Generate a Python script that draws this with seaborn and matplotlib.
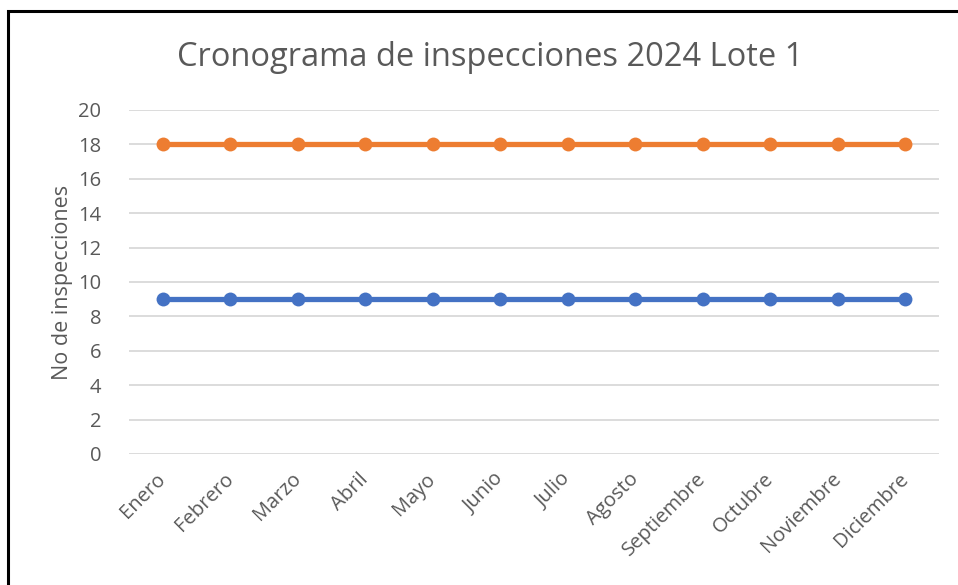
import pandas as pd
import matplotlib.pyplot as plt
import seaborn as sns
from matplotlib.patches import Rectangle

months = ['Enero', 'Febrero', 'Marzo', 'Abril', 'Mayo', 'Junio', 'Julio',
          'Agosto', 'Septiembre', 'Octubre', 'Noviembre', 'Diciembre']
serie_azul = [9, 9, 9, 9, 9, 9, 9, 9, 9, 9, 9, 9]
serie_naranja = [18, 18, 18, 18, 18, 18, 18, 18, 18, 18, 18, 18]
yticks = [0, 2, 4, 6, 8, 10, 12, 14, 16, 18, 20]

text_color = '#595959'

sns.set_style('white')
plt.rcParams['font.family'] = ['Open Sans', 'DejaVu Sans']

df = pd.DataFrame({
    'mes': months * 2,
    'valor': serie_azul + serie_naranja,
    'serie': ['Serie 1'] * 12 + ['Serie 2'] * 12,
})

fig = plt.figure(figsize=(9.58, 5.85), dpi=100)
ax = fig.add_axes([0.1347, 0.224, 0.8455, 0.588])

sns.lineplot(data=df, x='mes', y='valor', hue='serie', sort=False,
             palette=['#4472C4', '#ED7D31'], marker='o', markersize=10,
             markeredgewidth=0, linewidth=3.8, legend=False, ax=ax)

ax.set_xlim(-0.5, len(months) - 0.5)
ax.set_ylim(0, 20)
ax.set_yticks(yticks)
ax.set_xticks(range(len(months)))
ax.set_xticklabels(months, rotation=45, ha='right', va='center',
                   rotation_mode='anchor')
ax.yaxis.grid(True, color='#D9D9D9', linewidth=1.3)
ax.set_axisbelow(True)
for s in ax.spines.values():
    s.set_visible(False)
ax.tick_params(axis='both', length=0, labelsize=14.5, colors=text_color)
ax.tick_params(axis='x', pad=16)
ax.tick_params(axis='y', pad=20)
ax.set_xlabel('')
ax.set_ylabel('No de inspecciones', fontsize=15.5, color=text_color, labelpad=4)

fig.text(0.512, 0.902, 'Cronograma de inspecciones 2024 Lote 1',
         ha='center', va='center', fontsize=23.5, color=text_color)

# chart frame
fig.patches.append(Rectangle((8 / 958, -0.1), 2.0, 1.1 - 11 / 585,
                             transform=fig.transFigure, fill=False,
                             edgecolor='black', linewidth=2.2))

fig.savefig('out.png', dpi=100)
